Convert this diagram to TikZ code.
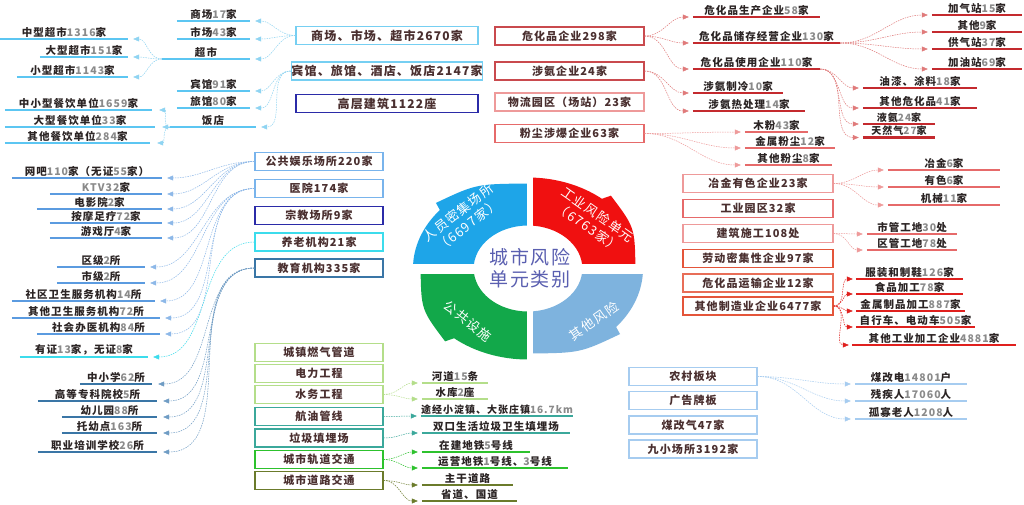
\documentclass[tikz,border=0pt]{standalone}
\usepackage{fontspec}
\setmainfont{Noto Sans CJK SC}[LetterSpace=10]
\usetikzlibrary{arrows.meta,calc}
\definecolor{tx}{HTML}{2B2424}
\definecolor{bt}{HTML}{4A2F2F}
\definecolor{ng}{HTML}{8A8A8A}
\definecolor{lb}{HTML}{5CC6F2}
\definecolor{lbbox}{HTML}{76CFF2}
\definecolor{lbarr}{HTML}{8FD4F2}
\definecolor{navy}{HTML}{2B2BA8}
\definecolor{mb}{HTML}{5B9BE0}
\definecolor{mbbox}{HTML}{79B4EC}
\definecolor{mbarr}{HTML}{8DB8E8}
\definecolor{cy}{HTML}{3CDCEC}
\definecolor{st}{HTML}{3A76A6}
\definecolor{starr}{HTML}{6F9CC4}
\definecolor{dr}{HTML}{C42A2E}
\definecolor{drbox}{HTML}{C94A4E}
\definecolor{drarr}{HTML}{E07A7A}
\definecolor{pk}{HTML}{EE9A9A}
\definecolor{pkr}{HTML}{E66A6A}
\definecolor{orr}{HTML}{E4553A}
\definecolor{brr}{HTML}{E0201E}
\definecolor{lg}{HTML}{B4DE8A}
\definecolor{tl}{HTML}{3BA89B}
\definecolor{gr}{HTML}{2DC22D}
\definecolor{ol}{HTML}{6B7B2B}
\definecolor{pb}{HTML}{A6CCF0}
\definecolor{segblue}{HTML}{1EA5E8}
\definecolor{segred}{HTML}{F01010}
\definecolor{seggreen}{HTML}{12A84A}
\definecolor{seglb}{HTML}{7EB3DE}
\definecolor{ctr}{HTML}{5A5FB0}
\newcommand\gn[1]{\textcolor{ng}{#1}}
\newcommand\leaf[6]{%
  \node[lf, minimum width={(#3)-(#2)}] (#1) at ({((#2)+(#3))/2},#4) {#6};
  \draw[ul,#5] (#1.south west) -- (#1.south east);}
\begin{document}
\begin{tikzpicture}[x=1pt,y=-1pt,
  bx/.style={draw, line width=1.3pt, fill=white, minimum height=18pt, inner sep=0pt, text=bt, font=\bfseries\fontsize{11}{13}\selectfont},
  bxL/.style={bx, minimum width=182pt, font=\bfseries\fontsize{12}{14}\selectfont},
  bxM/.style={bx, minimum width=128pt},
  bxR/.style={bx, minimum width=149pt},
  bxC/.style={bx, minimum width=150pt},
  lf/.style={anchor=south, inner xsep=0pt, inner ysep=1.5pt, text=tx, font=\bfseries\fontsize{10.5}{12}\selectfont},
  ul/.style={line width=2.3pt},
  cn/.style={line width=0.5pt, dash pattern=on 1.5pt off 1pt, -{Triangle[length=6pt,width=5pt]}},
  segtxt/.style={text=white, align=center, font=\mdseries\fontsize{13}{16}\selectfont}]
\useasboundingbox (0,0) rectangle (1024,504);
\fill[white] (0,0) rectangle (1024,504);

% ---------- central ring ----------
\begin{scope}[shift={(528,268.5)}, x=1pt, y=1pt, xscale=1.264]
  \foreach \c/\r in {segblue/0, segred/-90, seglb/-180, seggreen/-270} {
    \begin{scope}[rotate=\r]
      \fill[\c] (180:43) -- (180:91) arc[start angle=180,end angle=140,radius=91]
        -- (138:98) .. controls (116:94) .. (90:85) -- (90:43)
        arc[start angle=90,end angle=180,radius=43] -- cycle;
    \end{scope}
  }
\end{scope}
\fill[white] (527,168) rectangle (533,370);
\fill[white] (400,263.5) rectangle (662,273.5);
\node[text=ctr, align=center, font=\mdseries\fontsize{19}{22}\selectfont] (ctr) at (530,268) {城市风险\\单元类别};
\node[segtxt, rotate=38] (sb) at (463,219) {人员密集场所\\（6697家）};
\node[segtxt, rotate=-35] (sr) at (593,221) {工业风险单元\\（6763家）};
\node[segtxt, rotate=-38] (sg) at (468,321) {公共设施};
\node[segtxt, rotate=35] (sl) at (594,321) {其他风险};

% ---------- top-left ----------
\node[bxL, draw=lbbox] (b1) at (387,35.5) {商场、市场、超市2670家};
\node[bxL, draw=lbbox] (b2) at (387,71) {宾馆、旅馆、酒店、饭店2147家};
\node[bxL, draw=navy, line width=1.7pt] (b3) at (387,103.5) {高层建筑1122座};
\leaf{L1}{177}{250}{21}{lb}{商场\gn{17}家}
\leaf{L2}{177}{250}{39}{lb}{市场\gn{43}家}
\leaf{L3}{162}{250}{59}{lb}{超市}
\leaf{L4}{0}{128}{39}{lb}{中型超市\gn{1316}家}
\leaf{L5}{40}{128}{57}{lb}{大型超市\gn{151}家}
\leaf{L6}{17}{128}{77}{lb}{小型超市\gn{1143}家}
\leaf{L7}{177}{250}{91}{lb}{宾馆\gn{91}家}
\leaf{L8}{177}{250}{108}{lb}{旅馆\gn{80}家}
\leaf{L9}{170}{256}{127}{lb}{饭店}
\leaf{L10}{5}{152}{110}{lb}{中小型餐饮单位\gn{1659}家}
\leaf{L11}{5}{155}{127}{lb}{大型餐饮单位\gn{33}家}
\leaf{L12}{5}{150}{143}{lb}{其他餐饮单位\gn{284}家}
\foreach \t in {L1,L2,L3} \draw[cn,lbarr] (b1.west) to[out=180,in=0] ($(\t.south east)+(5,0)$);
\foreach \t in {L7,L8,L9} \draw[cn,lbarr] (b2.west) to[out=180,in=0] ($(\t.south east)+(5,0)$);
\foreach \t in {L4,L5,L6} \draw[cn,lbarr] (L3.south west) to[out=180,in=0] ($(\t.south east)+(5,0)$);
\foreach \t in {L10,L11,L12} \draw[cn,lbarr] (L9.south west) to[out=180,in=0] ($(\t.south east)+(7,0)$);

% ---------- left middle ----------
\node[bxM, draw=mbbox] (m1) at (319,161.5) {公共娱乐场所220家};
\node[bxM, draw=mbbox] (m2) at (319,188.5) {医院174家};
\node[bxM, draw=navy, line width=1.6pt] (m3) at (319,215.5) {宗教场所9家};
\node[bxM, draw=cy] (m4) at (319,242) {养老机构21家};
\node[bxM, draw=st] (m5) at (319,268) {教育机构335家};
\leaf{P1}{12}{162}{178}{mb}{网吧\gn{110}家（无证\gn{55}家）}
\leaf{P2}{50}{162}{194}{mb}{\gn{KTV32}家}
\leaf{P3}{37}{162}{209}{mb}{电影院\gn{2}家}
\leaf{P4}{50}{162}{223}{mb}{按摩足疗\gn{72}家}
\leaf{P5}{50}{162}{238}{mb}{游戏厅\gn{4}家}
\leaf{H1}{57}{145}{267}{mb}{区级\gn{2}所}
\leaf{H2}{57}{145}{283}{mb}{市级\gn{2}所}
\leaf{H3}{12}{155}{301}{mb}{社区卫生服务机构\gn{14}所}
\leaf{H4}{12}{160}{318}{mb}{其他卫生服务机构\gn{72}所}
\leaf{H5}{37}{160}{334}{mb}{社会办医机构\gn{84}所}
\leaf{Y1}{20}{148}{357}{cy}{有证\gn{13}家，无证\gn{8}家}
\leaf{E1}{80}{152}{384}{st}{中小学\gn{62}所}
\leaf{E2}{38}{157}{401}{st}{高等专科院校\gn{5}所}
\leaf{E3}{62}{157}{417}{st}{幼儿园\gn{88}所}
\leaf{E4}{62}{157}{433}{st}{托幼点\gn{163}所}
\leaf{E5}{38}{157}{452}{st}{职业培训学校\gn{26}所}
\foreach \t in {P1,P2,P3,P4,P5} \draw[cn,mbarr] (m1.west) to[out=180,in=0] ($(\t.south east)+(5,0)$);
\foreach \t in {H1,H2,H3,H4,H5} \draw[cn,mbarr] (m2.west) to[out=180,in=0] ($(\t.south east)+(5,0)$);
\draw[cn,cy] (m4.west) to[out=180,in=0] ($(Y1.south east)+(5,0)$);
\foreach \t in {E1,E2,E3,E4,E5} \draw[cn,starr] (m5.west) to[out=180,in=0] ($(\t.south east)+(6,0)$);

% ---------- right top ----------
\node[bxR, draw=drbox] (r1) at (569.5,36) {危化品企业298家};
\node[bxR, draw=drbox] (r2) at (569.5,71) {涉氨企业24家};
\node[bxR, draw=pk] (r3) at (569.5,102) {物流园区（场站）23家};
\node[bxR, draw=pkr] (r4) at (569.5,133.5) {粉尘涉爆企业63家};
\leaf{K1}{693}{820}{17}{dr}{危化品生产企业\gn{58}家}
\leaf{K2}{693}{840}{43}{dr}{危化品储存经营企业\gn{130}家}
\leaf{K3}{693}{820}{69}{dr}{危化品使用企业\gn{110}家}
\leaf{N1}{693}{783}{93}{dr}{涉氨制冷\gn{10}家}
\leaf{N2}{693}{805}{111}{dr}{涉氨热处理\gn{14}家}
\leaf{D1}{745}{808}{132}{pkr}{木粉\gn{43}家}
\leaf{D2}{745}{835}{148}{pkr}{金属粉尘\gn{12}家}
\leaf{D3}{745}{832}{165}{pkr}{其他粉尘\gn{8}家}
\leaf{S1}{932}{1022}{15}{dr}{加气站\gn{15}家}
\leaf{S2}{932}{1022}{32}{dr}{其他\gn{9}家}
\leaf{S3}{932}{1022}{49}{dr}{供气站\gn{37}家}
\leaf{S4}{932}{1022}{69}{dr}{加油站\gn{69}家}
\leaf{U1}{863}{977}{88}{dr}{油漆、涂料\gn{18}家}
\leaf{U2}{863}{977}{108}{dr}{其他危化品\gn{41}家}
\leaf{U3}{863}{935}{124}{dr}{\fontsize{10}{11}\selectfont 液氨\gn{24}家}
\leaf{U4}{863}{935}{137.5}{dr}{\fontsize{10}{11}\selectfont 天然气\gn{27}家}
\foreach \t in {K1,K2,K3} \draw[cn,drarr] (r1.east) to[out=0,in=180] ($(\t.south west)+(-4,0)$);
\foreach \t in {N1,N2} \draw[cn,drarr] (r2.east) to[out=0,in=180] ($(\t.south west)+(-4,0)$);
\foreach \t in {D1,D2,D3} \draw[cn,pk] (r4.east) to[out=0,in=180] ($(\t.south west)+(-4,0)$);
\foreach \t in {S1,S2,S3,S4} \draw[cn,drarr] (K2.south east) to[out=0,in=180] ($(\t.south west)+(-4,0)$);
\foreach \t in {U1,U2,U3,U4} \draw[cn,drarr] (K3.south east) to[out=0,in=180] ($(\t.south west)+(-4,0)$);

% ---------- right middle ----------
\node[bxC, draw=pk] (c1) at (758,183.5) {冶金有色企业23家};
\node[bxC, draw=pkr] (c2) at (758,208.5) {工业园区32家};
\node[bxC, draw=pk] (c3) at (758,233.5) {建筑施工108处};
\node[bxC, draw=orr, line width=1.7pt] (c4) at (758,258.5) {劳动密集性企业97家};
\node[bxC, draw=orr!85] (c5) at (758,283) {危化品运输企业12家};
\node[bxC, draw=orr, line width=1.7pt] (c6) at (758,306) {其他制造业企业6477家};
\leaf{T1}{888}{1000}{170}{pkr}{冶金\gn{6}家}
\leaf{T2}{888}{1000}{187}{pkr}{有色\gn{6}家}
\leaf{T3}{888}{1000}{205}{pkr}{机械\gn{11}家}
\leaf{W1}{867}{957}{234}{pkr}{市管工地\gn{30}处}
\leaf{W2}{867}{957}{250}{pkr}{区管工地\gn{78}处}
\leaf{F1}{856}{963}{279}{brr}{服装和制鞋\gn{126}家}
\leaf{F2}{856}{963}{294}{brr}{食品加工\gn{78}家}
\leaf{F3}{856}{965}{311}{brr}{金属制品加工\gn{887}家}
\leaf{F4}{856}{975}{327}{brr}{自行车、电动车\gn{505}家}
\leaf{F5}{852}{1016}{345}{brr}{其他工业加工企业\gn{4881}家}
\foreach \t in {T1,T2,T3} \draw[cn,pk] (c1.east) to[out=0,in=180] ($(\t.south west)+(-4,0)$);
\foreach \t in {W1,W2} \draw[cn,pk] (c3.east) to[out=0,in=180] ($(\t.south west)+(-4,0)$);
\foreach \t in {F1,F2,F3,F4,F5} \draw[cn,brr] (c6.east) to[out=0,in=180] ($(\t.south west)+(-3,0)$);

% ---------- bottom middle ----------
\node[bxM, draw=lg] (g1) at (319,352.5) {城镇燃气管道};
\node[bxM, draw=lg] (g2) at (319,373.5) {电力工程};
\node[bxM, draw=lg] (g3) at (319,394.5) {水务工程};
\node[bxM, draw=tl] (g4) at (319,416.5) {航油管线};
\node[bxM, draw=tl] (g5) at (319,438) {垃圾填埋场};
\node[bxM, draw=gr] (g6) at (319,459.5) {城市轨道交通};
\node[bxM, draw=ol] (g7) at (319,480.5) {城市道路交通};
\leaf{Q1}{422}{488}{383}{lg}{河道\gn{15}条}
\leaf{Q2}{422}{488}{399}{lg}{水库\gn{2}座}
\leaf{Q3}{422}{572}{416}{tl}{\fontsize{10}{11}\selectfont 途经小淀镇、大张庄镇\gn{16.7km}}
\leaf{Q4}{422}{570}{433}{tl}{双口生活垃圾卫生填埋场}
\leaf{Q5}{422}{530}{452}{gr}{在建地铁\gn{5}号线}
\leaf{Q6}{422}{568}{468}{gr}{运营地铁\gn{1}号线、\gn{3}号线}
\leaf{Q7}{422}{513}{485}{ol}{主干道路}
\leaf{Q8}{422}{517}{501}{ol}{省道、国道}
\foreach \t in {Q1,Q2} \draw[cn,lg] (g3.east) to[out=0,in=180] ($(\t.south west)+(-4,0)$);
\draw[cn,tl] (g4.east) to[out=0,in=180] ($(Q3.south west)+(-4,0)$);
\draw[cn,tl] (g5.east) to[out=0,in=180] ($(Q4.south west)+(-4,0)$);
\foreach \t in {Q5,Q6} \draw[cn,gr] (g6.east) to[out=0,in=180] ($(\t.south west)+(-4,0)$);
\foreach \t in {Q7,Q8} \draw[cn,ol] (g7.east) to[out=0,in=180] ($(\t.south west)+(-4,0)$);

% ---------- bottom right ----------
\node[bxM, draw=pb] (x1) at (693,376.5) {农村板块};
\node[bxM, draw=pb] (x2) at (693,400.5) {广告牌板};
\node[bxM, draw=pb] (x3) at (693,425) {煤改气47家};
\node[bxM, draw=pb] (x4) at (693,449) {九小场所3192家};
\leaf{V1}{855}{967}{384}{pb}{煤改电\gn{14801}户}
\leaf{V2}{855}{967}{401}{pb}{残疾人\gn{17060}人}
\leaf{V3}{855}{967}{419}{pb}{孤寡老人\gn{1208}人}
\foreach \t in {V1,V2,V3} \draw[cn,pb] (x1.east) to[out=0,in=180] ($(\t.south west)+(-4,0)$);
\end{tikzpicture}
\end{document}
